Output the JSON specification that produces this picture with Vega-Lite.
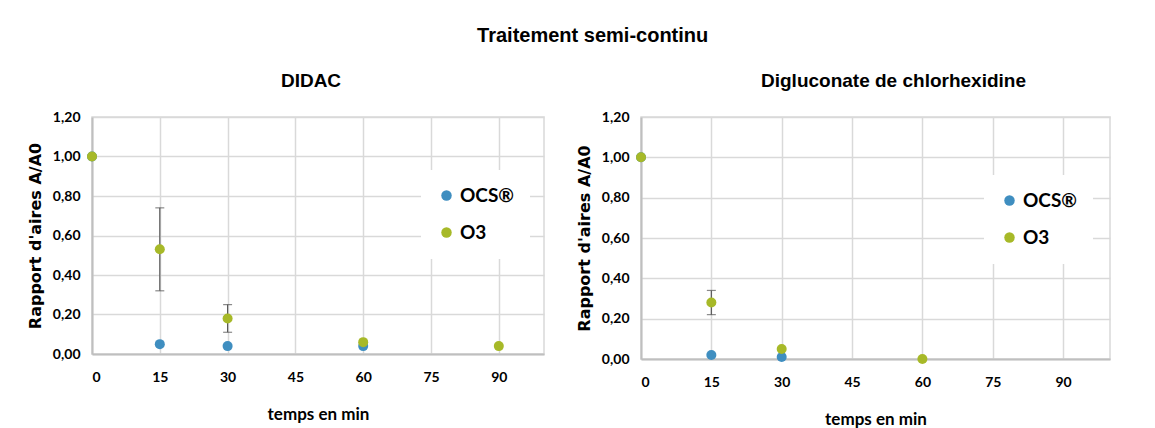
{
  "$schema": "https://vega.github.io/schema/vega-lite/v6.json",
  "background": "white",
  "padding": {"left": 26, "top": 26, "right": 5, "bottom": 0},
  "title": {
    "text": "Traitement semi-continu",
    "anchor": "middle",
    "dx": 24,
    "fontSize": 20,
    "font": "Liberation Sans",
    "fontWeight": "bold",
    "color": "black",
    "offset": 25
  },
  "config": {
    "locale": {"number": {"decimal": ",", "thousands": " ", "grouping": [3], "currency": ["", " €"]}},
    "view": {"stroke": "#d9d9d9", "strokeWidth": 1.5},
    "title": {"font": "Liberation Sans", "fontWeight": "bold", "fontSize": 19, "color": "black", "offset": 19},
    "axis": {
      "grid": true,
      "gridColor": "#d9d9d9",
      "gridWidth": 1.5,
      "ticks": false,
      "domainColor": "#bfbfbf",
      "domainWidth": 2,
      "labelFont": "Lato",
      "labelFontWeight": "bold",
      "labelFontSize": 14,
      "labelColor": "black",
      "labelOverlap": false,
      "titleColor": "black"
    },
    "axisX": {
      "labelPadding": 16,
      "titlePadding": 22,
      "titleFont": "Lato",
      "titleFontWeight": "bold",
      "titleFontSize": 17
    },
    "axisY": {
      "labelPadding": 12,
      "titlePadding": 9,
      "titleFont": "DejaVu Sans",
      "titleFontWeight": "bold",
      "titleFontSize": 16
    },
    "legend": {
      "orient": "none",
      "fillColor": "white",
      "padding": 16,
      "labelFont": "Lato",
      "labelFontWeight": "bold",
      "labelFontSize": 19,
      "labelColor": "black",
      "symbolType": "circle",
      "symbolSize": 110,
      "rowPadding": 17,
      "title": null
    }
  },
  "datasets": {
    "didac": [
      {"serie": "OCS®", "t": 0, "v": 1.00},
      {"serie": "OCS®", "t": 15, "v": 0.05},
      {"serie": "OCS®", "t": 30, "v": 0.04},
      {"serie": "OCS®", "t": 60, "v": 0.04},
      {"serie": "O3", "t": 0, "v": 1.00},
      {"serie": "O3", "t": 15, "v": 0.53, "lo": 0.32, "hi": 0.74},
      {"serie": "O3", "t": 30, "v": 0.18, "lo": 0.11, "hi": 0.25},
      {"serie": "O3", "t": 60, "v": 0.06},
      {"serie": "O3", "t": 90, "v": 0.04}
    ],
    "chlorhexidine": [
      {"serie": "OCS®", "t": 0, "v": 1.00},
      {"serie": "OCS®", "t": 15, "v": 0.02},
      {"serie": "OCS®", "t": 30, "v": 0.01},
      {"serie": "O3", "t": 0, "v": 1.00},
      {"serie": "O3", "t": 15, "v": 0.28, "lo": 0.22, "hi": 0.34},
      {"serie": "O3", "t": 30, "v": 0.05},
      {"serie": "O3", "t": 60, "v": 0.00}
    ]
  },
  "resolve": {"scale": {"color": "independent"}, "legend": {"color": "independent"}},
  "spacing": 30,
  "hconcat": [
    {
      "title": {"text": "DIDAC", "dx": -7},
      "width": 452,
      "height": 237,
      "data": {"name": "didac"},
      "layer": [
        {
          "transform": [{"filter": "isValid(datum.lo)"}],
          "mark": {"type": "errorbar", "color": "#595959", "thickness": 1.2, "ticks": {"size": 9, "thickness": 1.2, "color": "#595959"}},
          "encoding": {
            "x": {"field": "t", "type": "quantitative", "title": "temps en min",
                  "scale": {"domain": [0, 100], "nice": false},
                  "axis": {"values": [0, 15, 30, 45, 60, 75, 90]}},
            "y": {"field": "lo", "type": "quantitative", "title": "Rapport d'aires A/A0",
                  "scale": {"domain": [0, 1.2], "nice": false},
                  "axis": {"values": [0, 0.2, 0.4, 0.6, 0.8, 1.0, 1.2], "format": ".2f"}},
            "y2": {"field": "hi"}
          }
        },
        {
          "mark": {"type": "point", "filled": true, "size": 100, "opacity": 1},
          "encoding": {
            "x": {"field": "t", "type": "quantitative", "title": "temps en min",
                  "scale": {"domain": [0, 100], "nice": false},
                  "axis": {"values": [0, 15, 30, 45, 60, 75, 90]}},
            "y": {"field": "v", "type": "quantitative", "title": "Rapport d'aires A/A0",
                  "scale": {"domain": [0, 1.2], "nice": false},
                  "axis": {"values": [0, 0.2, 0.4, 0.6, 0.8, 1.0, 1.2], "format": ".2f"}},
            "color": {"field": "serie", "type": "nominal",
                      "scale": {"domain": ["OCS®", "O3"], "range": ["#3f8ec0", "#a7b928"]},
                      "legend": {"legendX": 329, "legendY": 53}}
          }
        }
      ]
    },
    {
      "title": {"text": "Digluconate de chlorhexidine", "dx": 18},
      "width": 469,
      "height": 242,
      "data": {"name": "chlorhexidine"},
      "layer": [
        {
          "transform": [{"filter": "isValid(datum.lo)"}],
          "mark": {"type": "errorbar", "color": "#595959", "thickness": 1.2, "ticks": {"size": 9, "thickness": 1.2, "color": "#595959"}},
          "encoding": {
            "x": {"field": "t", "type": "quantitative", "title": "temps en min",
                  "scale": {"domain": [0, 100], "nice": false},
                  "axis": {"values": [0, 15, 30, 45, 60, 75, 90]}},
            "y": {"field": "lo", "type": "quantitative", "title": "Rapport d'aires A/A0",
                  "scale": {"domain": [0, 1.2], "nice": false},
                  "axis": {"values": [0, 0.2, 0.4, 0.6, 0.8, 1.0, 1.2], "format": ".2f"}},
            "y2": {"field": "hi"}
          }
        },
        {
          "mark": {"type": "point", "filled": true, "size": 100, "opacity": 1},
          "encoding": {
            "x": {"field": "t", "type": "quantitative", "title": "temps en min",
                  "scale": {"domain": [0, 100], "nice": false},
                  "axis": {"values": [0, 15, 30, 45, 60, 75, 90]}},
            "y": {"field": "v", "type": "quantitative", "title": "Rapport d'aires A/A0",
                  "scale": {"domain": [0, 1.2], "nice": false},
                  "axis": {"values": [0, 0.2, 0.4, 0.6, 0.8, 1.0, 1.2], "format": ".2f"}},
            "color": {"field": "serie", "type": "nominal",
                      "scale": {"domain": ["OCS®", "O3"], "range": ["#3f8ec0", "#a7b928"]},
                      "legend": {"legendX": 343, "legendY": 58}}
          }
        }
      ]
    }
  ]
}
